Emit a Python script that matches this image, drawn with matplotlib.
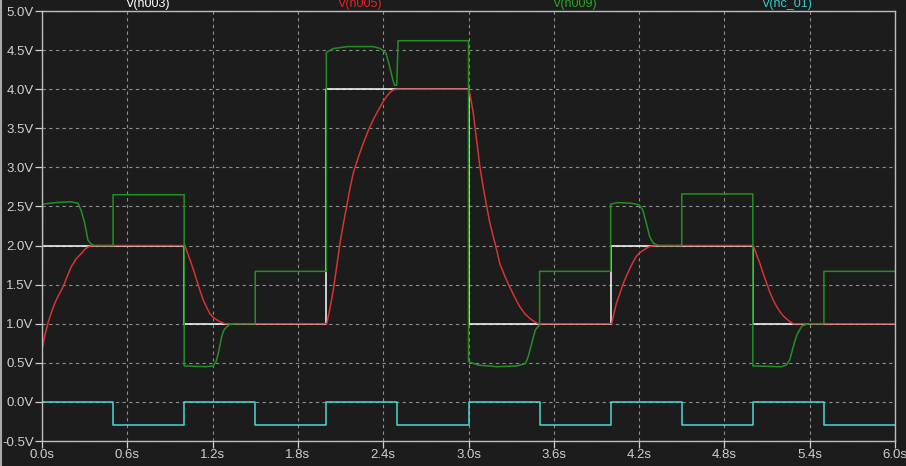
import numpy as np
import matplotlib
matplotlib.use("Agg")
import matplotlib.pyplot as plt
from matplotlib.lines import Line2D

plt.rcParams["font.family"] = ["Liberation Sans", "DejaVu Sans"]

# trace names (top labels)
trace_names = ["V(n003)", "V(n005)", "V(n009)", "V(nc_01)"]

# V(n003): step setpoint
white_t = [0.0, 1.0, 2.0, 3.0, 4.0, 5.0, 6.0]
white_v = [2.0, 1.0, 4.0, 1.0, 2.0, 1.0, 1.0]

# V(nc_01): square wave
cyan_t = [0.0, 0.5, 1.0, 1.5, 2.0, 2.5, 3.0, 3.5, 4.0, 4.5, 5.0, 5.5, 6.0]
cyan_v = [0.0, -0.3, 0.0, -0.3, 0.0, -0.3, 0.0, -0.3, 0.0, -0.3, 0.0, -0.3, -0.3]

# V(n005): response, points
red_t = [0.0, 0.02, 0.042, 0.065, 0.089, 0.118, 0.148, 0.176, 0.206, 0.24, 0.277,
         0.30, 0.323, 0.345, 0.37, 1.006,
         1.02, 1.041, 1.065, 1.088, 1.11, 1.135, 1.158, 1.18, 1.205, 1.229, 1.26, 1.287, 2.003,
         2.025, 2.049, 2.072, 2.096, 2.12, 2.143, 2.165, 2.19, 2.225, 2.26, 2.295, 2.33,
         2.365, 2.40, 2.425, 2.448, 2.47, 2.495, 3.003,
         3.017, 3.034, 3.057, 3.08, 3.104, 3.128, 3.15, 3.175, 3.2, 3.22, 3.255, 3.29,
         3.325, 3.36, 3.395, 3.43, 3.46, 3.49, 4.007,
         4.022, 4.04, 4.065, 4.09, 4.113, 4.136, 4.158, 4.18, 4.205, 4.23, 4.255, 4.277, 4.33, 5.003,
         5.025, 5.05, 5.073, 5.097, 5.12, 5.144, 5.167, 5.19, 5.214, 5.238, 5.262, 5.285, 6.0]
red_v = [0.66, 0.85, 1.01, 1.14, 1.26, 1.37, 1.47, 1.60, 1.73, 1.83, 1.90,
         1.95, 1.98, 1.995, 2.0, 2.0,
         1.92, 1.82, 1.69, 1.56, 1.43, 1.30, 1.21, 1.13, 1.08, 1.05, 1.02, 1.0, 1.0,
         1.19, 1.43, 1.72, 2.03, 2.28, 2.50, 2.72, 2.93, 3.13, 3.31, 3.47, 3.61,
         3.73, 3.84, 3.91, 3.96, 3.99, 4.0, 4.0,
         3.87, 3.69, 3.35, 3.01, 2.74, 2.50, 2.29, 2.11, 1.93, 1.77, 1.61, 1.47,
         1.34, 1.22, 1.13, 1.07, 1.03, 1.0, 1.0,
         1.12, 1.26, 1.39, 1.52, 1.62, 1.71, 1.79, 1.86, 1.91, 1.94, 1.97, 1.99, 2.0, 2.0,
         1.89, 1.77, 1.64, 1.52, 1.40, 1.30, 1.22, 1.155, 1.10, 1.06, 1.025, 1.0, 1.0]

# V(n009): drive signal
green_t = [0.0, 0.005, 0.1, 0.2, 0.253, 0.275, 0.30, 0.323, 0.345, 0.37, 0.5,
           0.5, 1.0,
           1.0, 1.15, 1.205, 1.225, 1.24, 1.264, 1.28, 1.30, 1.32, 1.36, 1.5,
           1.5, 2.0,
           2.0, 2.05, 2.15, 2.33, 2.38, 2.42, 2.445, 2.468, 2.48, 2.495, 2.505, 3.0,
           3.0, 3.07, 3.2, 3.34, 3.4, 3.42, 3.445, 3.47, 3.5,
           3.5, 4.0,
           4.0, 4.05, 4.15, 4.2, 4.225, 4.25, 4.275, 4.30, 4.335, 4.5,
           4.5, 5.0,
           5.0, 5.2, 5.235, 5.26, 5.285, 5.31, 5.345, 5.39, 5.5,
           5.5, 6.0]
green_v = [0.65, 2.53, 2.55, 2.56, 2.54, 2.45, 2.29, 2.07, 2.02, 2.0, 2.0,
           2.65, 2.65,
           0.46, 0.45, 0.46, 0.52, 0.62, 0.835, 0.92, 0.96, 0.99, 1.0, 1.0,
           1.67, 1.67,
           4.47, 4.52, 4.545, 4.545, 4.52, 4.46, 4.29, 4.12, 4.05, 4.05, 4.62, 4.62,
           0.515, 0.47, 0.45, 0.46, 0.49, 0.58, 0.75, 0.92, 0.985,
           1.67, 1.67,
           2.53, 2.55, 2.54, 2.52, 2.46, 2.29, 2.11, 2.03, 2.0, 2.0,
           2.66, 2.66,
           0.46, 0.45, 0.47, 0.54, 0.71, 0.86, 0.97, 1.0, 1.0,
           1.67, 1.67]

x_ticks = np.round(np.arange(0, 6.01, 0.6), 1)
y_ticks = np.round(np.arange(-0.5, 5.01, 0.5), 1)

bg = "#1c1c1c"
fg = "#cfcfcf"

fig = plt.figure(figsize=(9.06, 4.66), dpi=100, facecolor=bg)
ax = fig.add_axes([42 / 906, 25 / 466, 853 / 906, 430 / 466])
ax.set_facecolor(bg)

ax.step(white_t, white_v, where="post", color="#ffffff", lw=1.1)
ax.plot(red_t, red_v, color="#d83232", lw=1.1)
ax.plot(green_t, green_v, color="#238f23", lw=1.1)
ax.step(cyan_t, cyan_v, where="post", color="#4fd6d6", lw=1.1)

ax.set_xlim(0, 6.0)
ax.set_ylim(-0.5, 5.0)
ax.set_xticks(x_ticks)
ax.set_xticklabels([f"{v:.1f}s" for v in x_ticks])
ax.set_yticks(y_ticks)
ax.set_yticklabels([f"{v:.1f}V" for v in y_ticks])
ax.tick_params(colors=fg, labelsize=9.5, length=5, width=0.9, pad=1)
ax.grid(True, color="#8c8c8c", lw=0.8, linestyle=(0, (3, 3)))
for s in ax.spines.values():
    s.set_color("#bdbdbd")
    s.set_linewidth(1.0)

# trace labels along the top edge
label_x = [148, 360, 575, 787]
label_c = ["#ffffff", "#e02424", "#27a627", "#3fcaca"]
for name, xp, c in zip(trace_names, label_x, label_c):
    fig.text(xp / 906, 458.5 / 466, name, color=c, fontsize=9,
             ha="center", va="baseline", zorder=10)

fig.add_artist(Line2D([0.0015, 0.0015], [0, 1], color="#a8a8a8", lw=1.5))

fig.savefig("out.png", dpi=100, facecolor=bg)
